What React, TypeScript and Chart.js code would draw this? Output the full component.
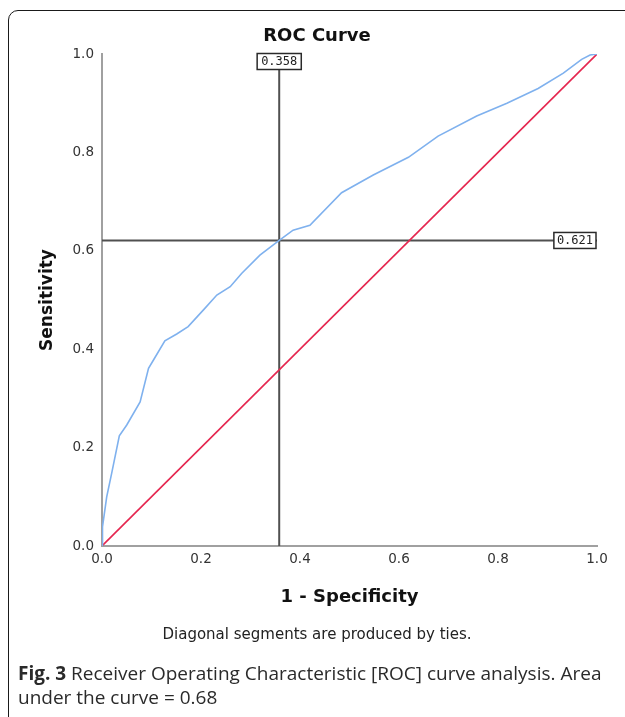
import React, { useEffect, useRef } from "react";
import { Chart, registerables } from "chart.js";

Chart.register(...registerables);

// ROC curve (1 - specificity, sensitivity)
const fprValues = [0, 0.001, 0.0095, 0.0196, 0.035, 0.05, 0.077, 0.094, 0.104, 0.127, 0.151, 0.174, 0.205, 0.232, 0.259, 0.282, 0.319, 0.358, 0.386, 0.42, 0.484, 0.548, 0.619, 0.679, 0.757, 0.818, 0.881, 0.932, 0.969, 0.986, 1.0];
const tprValues = [0, 0.039, 0.1, 0.148, 0.224, 0.246, 0.293, 0.361, 0.378, 0.417, 0.431, 0.446, 0.48, 0.51, 0.527, 0.554, 0.591, 0.621, 0.642, 0.652, 0.718, 0.754, 0.79, 0.833, 0.874, 0.9, 0.93, 0.961, 0.989, 0.998, 1.0];

// Reference (chance) diagonal
const diagonalX = [0, 1];
const diagonalY = [0, 1];

// Optimal cut-off
const cutoffFpr = 0.358;
const cutoffTpr = 0.621;
const cutoffFprLabel = "0.358";
const cutoffTprLabel = "0.621";

// Axis ticks
const axisMin = 0;
const axisMax = 1;
const tickStep = 0.2;

const chartFont = "'DejaVu Sans', sans-serif";

export default function App() {
  const canvasRef = useRef<HTMLCanvasElement | null>(null);

  useEffect(() => {
    const canvas = canvasRef.current;
    if (!canvas) return;

    const labelBoxes = {
      id: "cutoffLabels",
      afterDatasetsDraw(chart: any) {
        const { ctx, scales } = chart;
        const xs = scales.x;
        const ys = scales.y;
        ctx.save();
        ctx.font = "12px 'DejaVu Sans Mono', monospace";
        ctx.textAlign = "center";
        ctx.textBaseline = "middle";
        const drawBox = (cx: number, cy: number, w: number, h: number, text: string) => {
          ctx.fillStyle = "#ffffff";
          ctx.fillRect(cx - w / 2, cy - h / 2, w, h);
          ctx.strokeStyle = "#2a2a2a";
          ctx.lineWidth = 1.5;
          ctx.strokeRect(cx - w / 2, cy - h / 2, w, h);
          ctx.fillStyle = "#222222";
          ctx.fillText(text, cx, cy + 0.5);
        };
        const w1 = ctx.measureText(cutoffFprLabel).width + 8;
        drawBox(xs.getPixelForValue(cutoffFpr), ys.getPixelForValue(axisMax) + 7.5, w1, 16, cutoffFprLabel);
        const w2 = ctx.measureText(cutoffTprLabel).width + 6;
        drawBox(xs.getPixelForValue(axisMax) - 1 - w2 / 2, ys.getPixelForValue(cutoffTpr), w2, 16, cutoffTprLabel);
        ctx.restore();
      },
    };

    const chart = new Chart(canvas, {
      type: "line",
      data: {
        datasets: [
          {
            label: "Cut-off (1 - Specificity)",
            data: [
              { x: cutoffFpr, y: axisMin },
              { x: cutoffFpr, y: axisMax },
            ],
            borderColor: "#505050",
            borderWidth: 2,
            pointRadius: 0,
            order: 5,
          },
          {
            label: "Cut-off (Sensitivity)",
            data: [
              { x: axisMin, y: cutoffTpr },
              { x: axisMax, y: cutoffTpr },
            ],
            borderColor: "#505050",
            borderWidth: 2,
            pointRadius: 0,
            order: 4,
          },
          {
            label: "Reference Line",
            data: diagonalX.map((x, i) => ({ x, y: diagonalY[i] })),
            borderColor: "#e5264f",
            borderWidth: 1.6,
            pointRadius: 0,
            order: 2,
          },
          {
            label: "ROC",
            data: fprValues.map((x, i) => ({ x, y: tprValues[i] })),
            borderColor: "#7fb1ee",
            borderWidth: 1.6,
            pointRadius: 0,
            tension: 0,
            order: 1,
          },
        ],
      },
      options: {
        animation: false,
        responsive: true,
        maintainAspectRatio: false,
        layout: { padding: { left: 28, right: 28, top: 0, bottom: 0 } },
        plugins: {
          legend: { display: false },
          tooltip: { enabled: false },
          title: {
            display: true,
            text: "ROC Curve",
            color: "#111",
            font: { family: chartFont, size: 18, weight: "bold" },
            padding: { top: 15, bottom: 6.4 },
          },
          subtitle: {
            display: true,
            position: "bottom",
            text: "Diagonal segments are produced by ties.",
            color: "#222",
            font: { family: chartFont, size: 15 },
            padding: { top: 18, bottom: 7 },
          },
        },
        scales: {
          x: {
            type: "linear",
            min: axisMin,
            max: axisMax,
            afterFit: (s: any) => {
              s.height = 62;
            },
            ticks: {
              stepSize: tickStep,
              padding: 5,
              color: "#333",
              font: { family: chartFont, size: 13.5 },
              callback: (v: any) => Number(v).toFixed(1),
            },
            grid: { display: false, drawTicks: false },
            border: { display: true, color: "#a0a0a0", width: 2 },
            title: {
              display: true,
              text: "1 - Specificity",
              color: "#111",
              padding: 0,
              font: { family: chartFont, size: 18, weight: "bold" },
            },
          },
          y: {
            type: "linear",
            min: axisMin,
            max: axisMax,
            afterFit: (s: any) => {
              s.width = 65;
            },
            ticks: {
              stepSize: tickStep,
              padding: 8,
              color: "#333",
              font: { family: chartFont, size: 13.5 },
              callback: (v: any) => Number(v).toFixed(1),
            },
            grid: { display: false, drawTicks: false },
            border: { display: true, color: "#a0a0a0", width: 2 },
            title: {
              display: true,
              text: "Sensitivity",
              color: "#111",
              padding: 0,
              font: { family: chartFont, size: 17, weight: "bold" },
            },
          },
        },
      },
      plugins: [labelBoxes],
    } as any);

    return () => chart.destroy();
  }, []);

  return (
    <div>
      <div
        style={{
          position: "fixed",
          left: 8,
          top: 10,
          width: 700,
          height: 800,
          border: "1.5px solid #1a1a1a",
          borderRadius: 10,
          boxSizing: "border-box",
        }}
      />
      <div style={{ position: "fixed", left: 9, top: 11, width: 616, height: 640 }}>
        <canvas ref={canvasRef} />
      </div>
      <div
        style={{
          position: "fixed",
          left: 18,
          top: 661,
          fontFamily: "'Open Sans', sans-serif",
          fontSize: 19,
          lineHeight: "24px",
          color: "#2a2a2a",
          whiteSpace: "nowrap",
        }}
      >
        <b>Fig. 3</b> Receiver Operating Characteristic [ROC] curve analysis. Area
        <br />
        under the curve = 0.68
      </div>
    </div>
  );
}
